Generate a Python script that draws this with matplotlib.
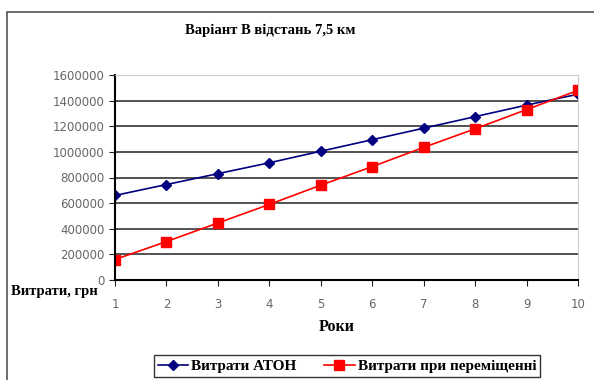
import matplotlib.pyplot as plt
from matplotlib.patches import Rectangle

years = [1, 2, 3, 4, 5, 6, 7, 8, 9, 10]
aton = [660000, 745000, 830000, 915000, 1005000, 1095000, 1185000, 1275000, 1365000, 1450000]
move = [160000, 300000, 445000, 590000, 740000, 885000, 1035000, 1180000, 1330000, 1480000]
yticks = [0, 200000, 400000, 600000, 800000, 1000000, 1200000, 1400000, 1600000]

W, H = 594, 380
fig = plt.figure(figsize=(W / 100, H / 100), dpi=100)
serif = 'Liberation Serif'

# outer chart frame
fig.patches.append(Rectangle((7 / W, -0.01), 1.0, (H - 12) / H + 0.01,
                             transform=fig.transFigure, fill=False,
                             edgecolor='#555555', linewidth=1.2))

ax = fig.add_axes([115 / W, 1 - 280 / H, (578 - 115) / W, (280 - 75) / H])
ax.plot(years, aton, color='#000080', marker='D', markersize=5, linewidth=1.2,
        label='Витрати АТОН')
ax.plot(years, move, color='#FF0000', marker='s', markersize=6.5, linewidth=1.2,
        label='Витрати при переміщенні')

ax.set_xlim(1, 10)
ax.set_ylim(0, 1600000)
ax.set_xticks(years)
ax.set_yticks(yticks)
ax.set_yticklabels([str(v) for v in yticks])
for v in yticks[1:]:
    ax.axhline(v, color='#444444' if v < 1600000 else '#bbbbbb', linewidth=1.3, zorder=0)

for s in ['top', 'right']:
    ax.spines[s].set_color('#cccccc')
ax.spines['left'].set_linewidth(1.5)
ax.spines['bottom'].set_linewidth(1.5)
ax.tick_params(axis='both', labelsize=8.5, colors='#222222', labelcolor='#666666', length=4)
ax.tick_params(axis='x', pad=9)

fig.text(270 / W, 1 - 30 / H, 'Варіант В відстань 7,5 км', fontfamily=serif,
         fontweight='bold', fontsize=10.5, ha='center', va='center')
fig.text(11 / W, 1 - 292 / H, 'Витрати, грн', fontfamily=serif,
         fontweight='bold', fontsize=10.5, ha='left', va='center')
fig.text(337 / W, 1 - 327 / H, 'Роки', fontfamily=serif,
         fontweight='bold', fontsize=11.5, ha='center', va='center')

leg = fig.legend(loc='center', bbox_to_anchor=(347 / W, 1 - 366 / H), ncol=2,
                 frameon=True, fancybox=False, edgecolor='black', handlelength=2.0,
                 columnspacing=1.8, borderpad=0.25, handletextpad=0.2,
                 prop={'family': serif, 'weight': 'bold', 'size': 11})
leg.get_frame().set_linewidth(1.0)

fig.savefig('out.png', dpi=100)
